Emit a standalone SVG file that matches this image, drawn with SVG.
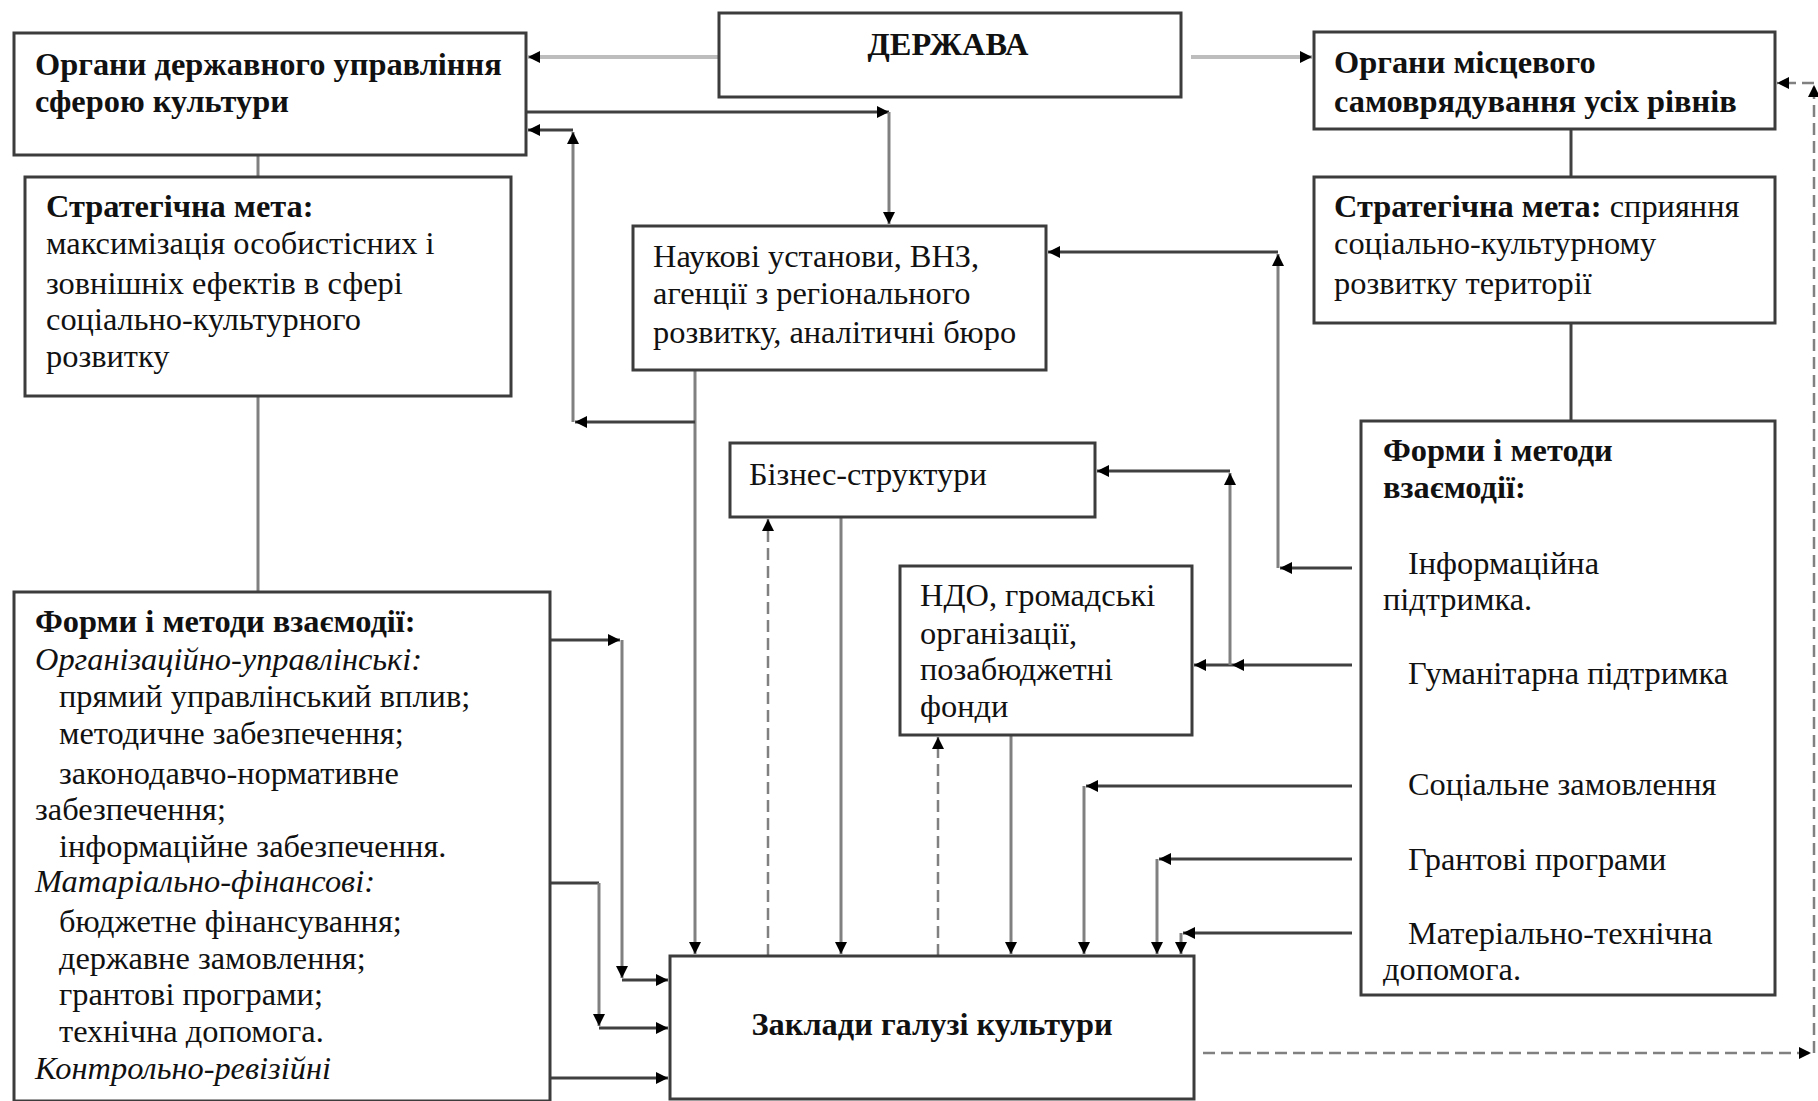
<svg xmlns="http://www.w3.org/2000/svg" width="1818" height="1101" viewBox="0 0 1818 1101">
<defs>
<marker id="a" viewBox="0 0 12 12" refX="12" refY="6" markerWidth="12" markerHeight="12" markerUnits="userSpaceOnUse" orient="auto">
<path d="M0,0 L12,6 L0,12 z" fill="#000"/>
</marker>
</defs>
<style>
.box{fill:#fff;stroke:#3c3c3c;stroke-width:3}
.t{font-family:"Liberation Serif","Times New Roman",serif;font-size:32.4px;fill:#111}
.b{font-weight:bold}
.i{font-style:italic}
.lg{stroke:#bdbdbd;stroke-width:4;fill:none}
.dk{stroke:#404040;stroke-width:3;fill:none}
.gr{stroke:#808080;stroke-width:3;fill:none}
.ds{stroke:#808080;stroke-width:2.5;fill:none;stroke-dasharray:12 6}
.m{marker-end:url(#a)}
</style>
<rect width="1818" height="1101" fill="#fff"/>
<g id="connectors">
<line class="lg m" x1="719" y1="57" x2="528" y2="57"/>
<line class="lg m" x1="1191" y1="57" x2="1312" y2="57"/>
<line class="dk m" x1="526" y1="112" x2="889" y2="112"/>
<line class="gr m" x1="889" y1="112" x2="889" y2="224"/>
<line class="gr m" x1="695" y1="370" x2="695" y2="954"/>
<line class="dk m" x1="695" y1="422" x2="575" y2="422"/>
<line class="gr m" x1="573" y1="422" x2="573" y2="132"/>
<line class="dk m" x1="573" y1="130" x2="528" y2="130"/>
<line class="dk m" x1="550" y1="640" x2="620" y2="640"/>
<line class="gr m" x1="622" y1="640" x2="622" y2="978"/>
<line class="dk m" x1="622" y1="980" x2="668" y2="980"/>
<line class="dk" x1="550" y1="883" x2="599" y2="883"/>
<line class="gr m" x1="599" y1="883" x2="599" y2="1026"/>
<line class="dk m" x1="599" y1="1028" x2="668" y2="1028"/>
<line class="dk m" x1="550" y1="1078" x2="668" y2="1078"/>
<line class="ds m" x1="768" y1="956" x2="768" y2="519"/>
<line class="gr m" x1="841" y1="517" x2="841" y2="954"/>
<line class="ds m" x1="938" y1="956" x2="938" y2="737"/>
<line class="gr m" x1="1011" y1="735" x2="1011" y2="954"/>
<line class="dk m" x1="1352" y1="786" x2="1086" y2="786"/>
<line class="gr m" x1="1084" y1="786" x2="1084" y2="954"/>
<line class="dk m" x1="1352" y1="859" x2="1159" y2="859"/>
<line class="gr m" x1="1157" y1="859" x2="1157" y2="954"/>
<line class="dk m" x1="1352" y1="933" x2="1183" y2="933"/>
<line class="gr m" x1="1181" y1="933" x2="1181" y2="954"/>
<line class="dk m" x1="1352" y1="568" x2="1280" y2="568"/>
<line class="gr m" x1="1278" y1="568" x2="1278" y2="254"/>
<line class="dk m" x1="1278" y1="252" x2="1048" y2="252"/>
<line class="dk m" x1="1352" y1="665" x2="1232" y2="665"/>
<line class="dk m" x1="1232" y1="665" x2="1194" y2="665"/>
<line class="gr m" x1="1230" y1="665" x2="1230" y2="473"/>
<line class="dk m" x1="1230" y1="471" x2="1097" y2="471"/>
<line class="ds m" x1="1203" y1="1053" x2="1811" y2="1053"/>
<line class="ds m" x1="1814" y1="1053" x2="1814" y2="85"/>
<line class="ds m" x1="1814" y1="83" x2="1777" y2="83"/>
<line class="gr" x1="258" y1="155" x2="258" y2="177"/>
<line class="gr" x1="258" y1="396" x2="258" y2="592"/>
<line class="dk" x1="1571" y1="129" x2="1571" y2="177"/>
<line class="dk" x1="1571" y1="323" x2="1571" y2="421"/>
</g>
<g id="organy-derzh">
<rect class="box" x="14" y="33" width="512" height="122"/>
<text class="t b" x="35" y="75">Органи державного управління</text>
<text class="t b" x="35" y="112">сферою культури</text>
</g>
<g id="derzhava">
<rect class="box" x="719" y="13" width="462" height="84"/>
<text class="t b" x="948" y="55" text-anchor="middle">ДЕРЖАВА</text>
</g>
<g id="organy-mistsevi">
<rect class="box" x="1314" y="32" width="461" height="97"/>
<text class="t b" x="1334" y="73">Органи місцевого</text>
<text class="t b" x="1334" y="112">самоврядування усіх рівнів</text>
</g>
<g id="meta-left">
<rect class="box" x="25" y="177" width="486" height="219"/>
<text class="t b" x="46" y="217">Стратегічна мета:</text>
<text class="t" x="46" y="254">максимізація особистісних і</text>
<text class="t" x="46" y="294">зовнішніх ефектів в сфері</text>
<text class="t" x="46" y="330">соціально-культурного</text>
<text class="t" x="46" y="367">розвитку</text>
</g>
<g id="meta-right">
<rect class="box" x="1314" y="177" width="461" height="146"/>
<text class="t" x="1334" y="217"><tspan class="b">Стратегічна мета:</tspan> сприяння</text>
<text class="t" x="1334" y="254">соціально-культурному</text>
<text class="t" x="1334" y="294">розвитку території</text>
</g>
<g id="naukovi">
<rect class="box" x="633" y="226" width="413" height="144"/>
<text class="t" x="653" y="267">Наукові установи, ВНЗ,</text>
<text class="t" x="653" y="304">агенції з регіонального</text>
<text class="t" x="653" y="343">розвитку, аналітичні бюро</text>
</g>
<g id="biznes">
<rect class="box" x="730" y="443" width="365" height="74"/>
<text class="t" x="749" y="485">Бізнес-структури</text>
</g>
<g id="ndo">
<rect class="box" x="900" y="566" width="292" height="169"/>
<text class="t" x="920" y="606">НДО, громадські</text>
<text class="t" x="920" y="644">організації,</text>
<text class="t" x="920" y="680">позабюджетні</text>
<text class="t" x="920" y="717">фонди</text>
</g>
<g id="formy-left">
<rect class="box" x="14" y="592" width="536" height="509"/>
<text class="t b" x="35" y="632">Форми і методи взаємодії:</text>
<text class="t i" x="35" y="670">Організаційно-управлінські:</text>
<text class="t" x="59" y="707">прямий управлінський вплив;</text>
<text class="t" x="59" y="744">методичне забезпечення;</text>
<text class="t" x="59" y="784">законодавчо-нормативне</text>
<text class="t" x="35" y="820">забезпечення;</text>
<text class="t" x="59" y="857">інформаційне забезпечення.</text>
<text class="t i" x="35" y="892">Матаріально-фінансові:</text>
<text class="t" x="59" y="932">бюджетне фінансування;</text>
<text class="t" x="59" y="969">державне замовлення;</text>
<text class="t" x="59" y="1005">грантові програми;</text>
<text class="t" x="59" y="1042">технічна допомога.</text>
<text class="t i" x="35" y="1079">Контрольно-ревізійні</text>
</g>
<g id="formy-right">
<rect class="box" x="1361" y="421" width="414" height="574"/>
<text class="t b" x="1383" y="461">Форми і методи</text>
<text class="t b" x="1383" y="498">взаємодії:</text>
<text class="t" x="1408" y="574">Інформаційна</text>
<text class="t" x="1383" y="610">підтримка.</text>
<text class="t" x="1408" y="684">Гуманітарна підтримка</text>
<text class="t" x="1408" y="795">Соціальне замовлення</text>
<text class="t" x="1408" y="870">Грантові програми</text>
<text class="t" x="1408" y="944">Матеріально-технічна</text>
<text class="t" x="1383" y="980">допомога.</text>
</g>
<g id="zaklady">
<rect class="box" x="670" y="956" width="524" height="143"/>
<text class="t b" x="932" y="1035" text-anchor="middle">Заклади галузі культури</text>
</g>
</svg>
